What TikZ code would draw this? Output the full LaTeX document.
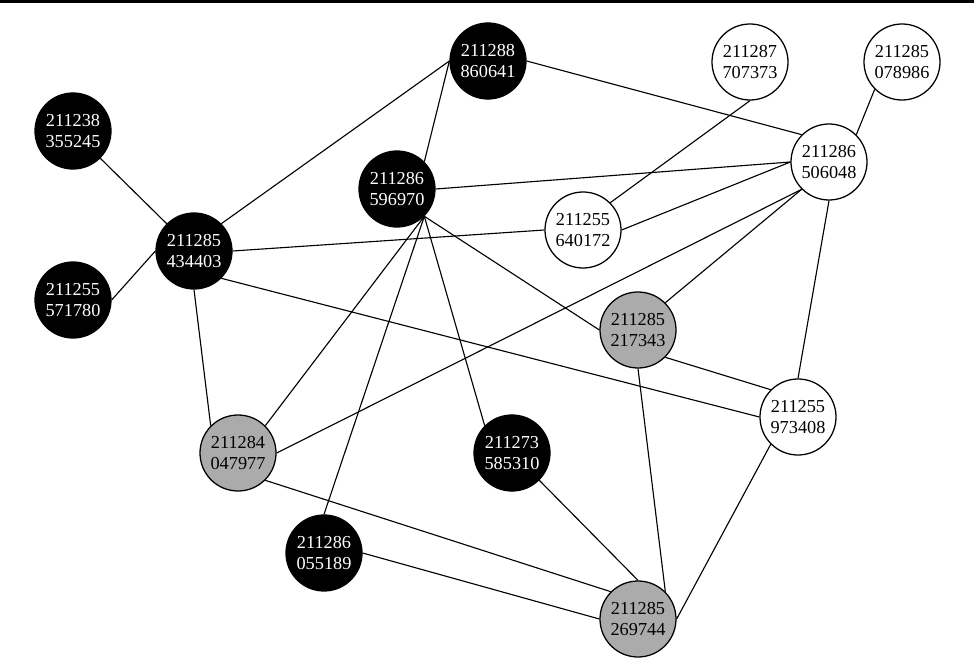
\documentclass[tikz,border=0pt]{standalone}
\usepackage{fontspec}
\setmainfont{Liberation Serif}
\usepackage{xcolor}
\usepackage{tikz}

\begin{document}
\begin{tikzpicture}[x=0.025cm, y=-0.025cm, line width=0.8pt,
    vtx/.style={circle, draw=black, line width=0.9pt, minimum size=1.9cm, inner sep=0pt,
      align=center, font=\fontsize{13}{15}\selectfont},
    blk/.style={vtx, fill=black, text=white},
    gry/.style={vtx, fill=black!33},
    wht/.style={vtx, fill=white}]
  \useasboundingbox (0,0) rectangle (974,662);
  \fill[black] (0,0) rectangle (974,2.7);
  % nodes
  \node[blk] (n355245) at (73,131)  {211238\\355245};
  \node[blk] (n571780) at (73,300)  {211255\\571780};
  \node[blk] (n434403) at (194,251) {211285\\434403};
  \node[blk] (n860641) at (488,61)  {211288\\860641};
  \node[blk] (n596970) at (397,189) {211286\\596970};
  \node[wht] (n707373) at (750,62)  {211287\\707373};
  \node[wht] (n078986) at (902,62)  {211285\\078986};
  \node[wht] (n506048) at (829,162) {211286\\506048};
  \node[wht] (n640172) at (583,230) {211255\\640172};
  \node[gry] (n217343) at (638,330) {211285\\217343};
  \node[wht] (n973408) at (798,417) {211255\\973408};
  \node[gry] (n047977) at (238,453) {211284\\047977};
  \node[blk] (n585310) at (512,453) {211273\\585310};
  \node[blk] (n055189) at (324,553) {211286\\055189};
  \node[gry] (n269744) at (638,619) {211285\\269744};
  % links (ends snapped to compass anchors)
  \draw (n355245.south east) -- (n434403.north west);
  \draw (n571780.east) -- (n434403.west);
  \draw (n434403.north east) -- (n860641.west);
  \draw (n434403.east) -- (n640172.west);
  \draw (n434403.south) -- (n047977.north west);
  \draw (n434403.south east) -- (n973408.west);
  \draw (n860641.west) -- (n596970.north east);
  \draw (n860641.east) -- (n506048.north west);
  \draw (n596970.east) -- (n506048.west);
  \draw (n596970.south east) -- (n217343.west);
  \draw (n596970.south east) -- (n585310.north west);
  \draw (n596970.south east) -- (n047977.north east);
  \draw (n596970.south east) -- (n055189.north);
  \draw (n707373.south) -- (n640172.north east);
  \draw (n078986.south west) -- (n506048.north east);
  \draw (n506048.west) -- (n640172.east);
  \draw (n506048.south west) -- (n047977.east);
  \draw (n506048.south west) -- (n217343.north east);
  \draw (n506048.south) -- (n973408.north);
  \draw (n217343.south east) -- (n973408.north west);
  \draw (n217343.south) -- (n269744.north east);
  \draw (n973408.south west) -- (n269744.east);
  \draw (n585310.south east) -- (n269744.north);
  \draw (n047977.south east) -- (n269744.north west);
  \draw (n055189.east) -- (n269744.west);
\end{tikzpicture}
\end{document}
